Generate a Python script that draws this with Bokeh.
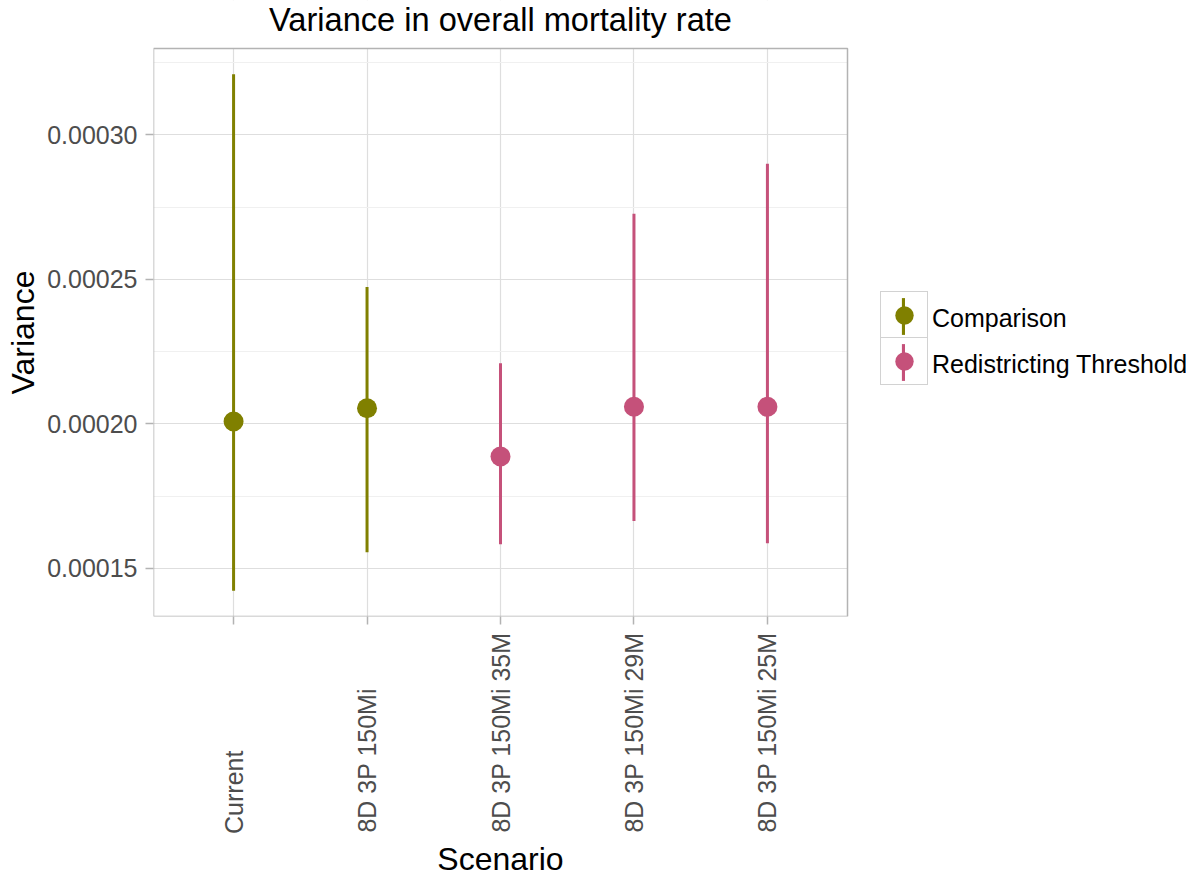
import math
from bokeh.plotting import figure
from bokeh.models import (Range1d, FixedTicker, PrintfTickFormatter, Legend,
                          LegendItem, ColumnDataSource, BoxAnnotation, Label,
                          LinearAxis, CustomJSTickFormatter)
from bokeh.core.properties import value
from bokeh.embed import file_html
from bokeh.resources import INLINE

# ---------------- data ----------------
scenarios = ["Current", "8D 3P 150Mi", "8D 3P 150Mi 35M",
             "8D 3P 150Mi 29M", "8D 3P 150Mi 25M"]
scenario_group = ["Comparison", "Comparison", "Redistricting Threshold",
                  "Redistricting Threshold", "Redistricting Threshold"]
variance = [0.0002008, 0.0002054, 0.0001887, 0.0002059, 0.0002059]
lower = [0.0001423, 0.0001556, 0.0001584, 0.0001664, 0.0001587]
upper = [0.0003209, 0.0002473, 0.0002210, 0.0002727, 0.0002900]
group_names = ["Comparison", "Redistricting Threshold"]
group_colors = ["#808000", "#C5517A"]
y_ticks = [0.00015, 0.00020, 0.00025, 0.00030]
y_minor = [0.000175, 0.000225, 0.000275, 0.000325]
title_text = "Variance in overall mortality rate"
x_title = "Scenario"
y_title = "Variance"

FONT = "Liberation Sans"
GRID = "#DEDEDE"
BORDER = "#B3B3B3"

# approximate advance widths (em) of Liberation Sans, used to bottom-align
# the rotated category labels as in the original
_W = {" ": .278, "\u00a0": .278, "C": .722, "D": .722, "M": .833,
      "P": .667, "e": .556, "i": .222, "n": .556, "r": .333, "t": .278,
      "u": .556}


def _w(s):
    return sum(_W.get(ch, .556) for ch in s)


longest = max(_w(s) for s in scenarios)
padded = [s + "\u00a0" * round((longest - _w(s)) / .278) for s in scenarios]

n = len(scenarios)
# panel (data area) extent, ggplot-style expansion
x0, x1 = 0.4, n + 0.6
lo, hi = min(lower), max(upper)
pad = 0.05 * (hi - lo)
y0, y1 = lo - pad, hi + pad

# the drawing frame also holds the title (above) and legend (right)
PANEL_W, PANEL_H = 694, 568
FRAME_W, FRAME_H = 1033, 616
x_end = x0 + FRAME_W * (x1 - x0) / PANEL_W
y_end = y0 + FRAME_H * (y1 - y0) / PANEL_H

p = figure(frame_width=FRAME_W, frame_height=FRAME_H,
           x_range=Range1d(x0, x_end), y_range=Range1d(y0, y_end),
           output_backend="svg", toolbar_location=None,
           min_border_left=153, min_border_right=0,
           min_border_top=0, min_border_bottom=0)
p.background_fill_color = "white"
p.border_fill_color = "white"
p.outline_line_color = None

# main axes
xax, yax = p.xaxis[0], p.yaxis[0]
xpos = list(range(1, n + 1))
xax.ticker = FixedTicker(ticks=xpos, minor_ticks=[])
xax.major_label_overrides = {x: s for x, s in zip(xpos, padded)}
xax.major_label_orientation = math.pi / 2
xax.bounds = (x0, x1)
yax.ticker = FixedTicker(ticks=y_ticks, minor_ticks=y_minor)
yax.formatter = PrintfTickFormatter(format="%.5f")
yax.bounds = (y0, y1)
for ax in (xax, yax):
    ax.axis_line_color = None
    ax.major_tick_line_color = BORDER
    ax.major_tick_line_width = 1.5
    ax.major_tick_in = 0
    ax.major_tick_out = 8
    ax.minor_tick_in = 0
    ax.minor_tick_out = 0
    ax.minor_tick_line_color = None
    ax.major_label_standoff = 8
    ax.major_label_text_font = FONT
    ax.major_label_text_font_size = "25px"
    ax.major_label_text_color = "#4D4D4D"


# axis titles, centred on the panel (not on the whole frame)
def title_axis(text, at, orientation, standoff):
    return LinearAxis(
        ticker=FixedTicker(ticks=[at], minor_ticks=[]),
        formatter=CustomJSTickFormatter(args=dict(t=text), code="return t"),
        major_label_orientation=orientation, major_label_standoff=standoff,
        axis_line_color=None, major_tick_line_color=None,
        minor_tick_line_color=None, major_tick_in=0, major_tick_out=0,
        minor_tick_in=0, minor_tick_out=0,
        major_label_text_font=FONT, major_label_text_font_size="32px",
        major_label_text_color="black")


p.add_layout(title_axis(y_title, (y0 + y1) / 2, "vertical", 4), "left")
p.add_layout(title_axis(x_title, (x0 + x1) / 2, "horizontal", 4), "below")

# grid
p.xgrid.grid_line_color = GRID
p.xgrid.grid_line_width = 1.2
p.ygrid.grid_line_color = GRID
p.ygrid.grid_line_width = 1.2
p.ygrid.minor_grid_line_color = "#F0F0F0"
p.ygrid.minor_grid_line_width = 1

# keep the grid inside the panel: blank out the title / legend zones
p.add_layout(BoxAnnotation(bottom=y1, fill_color="white", fill_alpha=1,
                           line_color=None, level="underlay"))
p.add_layout(BoxAnnotation(left=x1, fill_color="white", fill_alpha=1,
                           line_color=None, level="underlay"))

# glyphs
bar_r, pt_r = {}, {}
for g, c in zip(group_names, group_colors):
    idx = [i for i in range(n) if scenario_group[i] == g]
    src = ColumnDataSource(dict(
        x=[xpos[i] for i in idx],
        mid=[variance[i] for i in idx],
        lo=[lower[i] for i in idx],
        hi=[upper[i] for i in idx]))
    bar_r[g] = p.vbar(x="x", bottom="lo", top="hi", width=0.0225, source=src,
                      fill_color=c, line_color=None)
    pt_r[g] = p.scatter(x="x", y="mid", size=20, source=src,
                        fill_color=c, line_color=None)

# panel border
p.add_layout(BoxAnnotation(left=x0, right=x1, bottom=y0, top=y1,
                           fill_alpha=0, line_color=BORDER, line_alpha=1,
                           line_width=1.5))

# title
p.add_layout(Label(x=(x0 + x1) / 2, y=FRAME_H - 19, y_units="screen",
                   text=title_text, text_align="center",
                   text_baseline="alphabetic", text_font=FONT,
                   text_font_size="32.6px", text_color="black"))

# ---------------- legend ----------------
KEY = 46
LX, LY = 726.5, 231          # legend origin, px from panel left / bottom
common = dict(padding=0, spacing=0, margin=0, label_width=0, label_height=0,
              label_standoff=0, glyph_height=KEY)
for j, g in enumerate(group_names):
    p.add_layout(Legend(
        items=[LegendItem(label=value(""), renderers=[pt_r[g]])],
        location=(LX, LY + KEY * (len(group_names) - 1 - j)),
        glyph_width=KEY, label_text_font_size="1px",
        border_line_color="#A6A6A6", border_line_width=1,
        background_fill_color="white", background_fill_alpha=1, **common))
p.add_layout(Legend(
    items=[LegendItem(label=value(""), renderers=[bar_r[g]])
           for g in group_names],
    location=(LX + (KEY - 4) / 2, LY), glyph_width=4,
    label_text_font_size="1px",
    border_line_color=None, background_fill_alpha=0, **common))
p.add_layout(Legend(
    items=[LegendItem(label=value(g), renderers=[pt_r[g]])
           for g in group_names],
    location=(LX + KEY + 6.5, LY - 2), glyph_width=0,
    label_text_font=FONT, label_text_font_size="25px",
    label_text_color="black",
    border_line_color=None, background_fill_alpha=0, **common))

open("out.html", "w").write(file_html(p, INLINE))
